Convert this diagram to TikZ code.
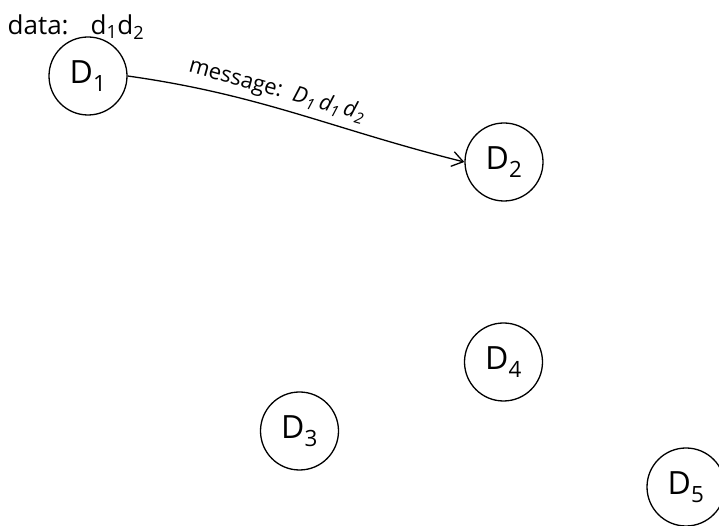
\documentclass[tikz,border=0pt]{standalone}
\usepackage{fontspec}
\setmainfont{Open Sans}
\usetikzlibrary{arrows.meta}

\begin{document}
\begin{tikzpicture}[x=1pt,y=1pt,
        device/.style={circle,draw,line width=1.3pt,minimum size=78pt,inner sep=0pt,
            font=\fontsize{32}{36}\selectfont},
        msg/.style={font=\fontsize{22}{26}\selectfont,inner sep=5pt}]
        \useasboundingbox (0,0) rectangle (719,526);
        \node[device] (d1) at (88,450) {D\textsubscript{1}};
        \node[device] (d2) at (504,364) {D\textsubscript{2}};
        \node[device] (d3) at (299.5,95) {D\textsubscript{3}};
        \node[device] (d4) at (503.5,164) {D\textsubscript{4}};
        \node[device] (d5) at (686,39) {D\textsubscript{5}};
        \node[font=\fontsize{26}{30}\selectfont] (data) at (76,499) {data:\hspace{22pt}d\textsubscript{1}d\textsubscript{2}};
        \draw[line width=1.3pt,-{Straight Barb[length=11pt,width=15pt]}] (d1.east) to[out=-8,in=166]
            node[msg,sloped,above,pos=0.42] {message:\ \ \textit{D\textsubscript{1}\,d\textsubscript{1}\,d\textsubscript{2}}} (d2.west);
    \end{tikzpicture}
\end{document}
